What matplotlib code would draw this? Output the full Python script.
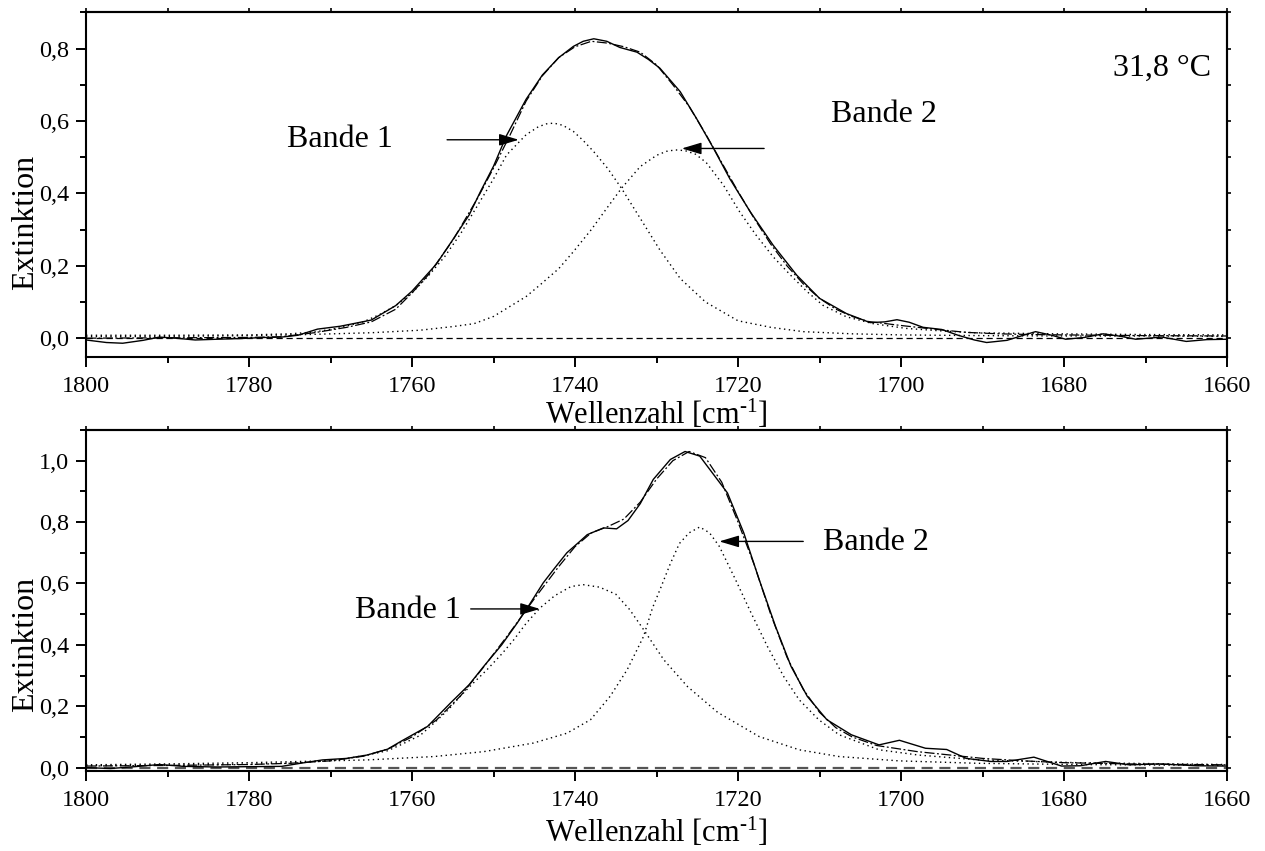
import numpy as np
import matplotlib
matplotlib.use("Agg")
import matplotlib.pyplot as plt
from matplotlib.ticker import MultipleLocator, FuncFormatter, NullFormatter

plt.rcParams['font.family'] = ['Liberation Serif', 'DejaVu Serif']
plt.rcParams['mathtext.fontset'] = 'custom'
plt.rcParams['mathtext.rm'] = 'Liberation Serif'
plt.rcParams['mathtext.default'] = 'regular'

#--------------------------------------------------------------------------
# Data (wavenumber in cm-1, extinction)
#--------------------------------------------------------------------------

# upper panel, 31,8 °C
top_temp = "31,8 °C"

top_meas_w = [1800, 1797.5, 1795.5, 1793, 1791, 1789, 1786.6, 1784, 1781, 1778, 1776, 1774,
              1771.6, 1768.8, 1767, 1765, 1763.5, 1762, 1760, 1758.6, 1757, 1755, 1753,
              1751.6, 1750, 1748.4, 1746, 1744, 1742, 1740.2, 1739, 1737.7, 1736.1, 1734.5,
              1732.4, 1731, 1729.6, 1727.1, 1725.1, 1723, 1721, 1718.5, 1715.7, 1712.8, 1710,
              1706.7, 1703.8, 1702, 1700.5, 1699, 1697.3, 1695, 1693, 1691, 1689.5, 1687, 1685,
              1683.5, 1681.5, 1679.8, 1677.5, 1675.2, 1673, 1671.2, 1668, 1665, 1662.5, 1660]
top_meas_e = [-0.005, -0.012, -0.014, -0.006, 0.003, 0.0, -0.005, -0.003, -0.001, 0.002, 0.003, 0.008,
              0.025, 0.033, 0.041, 0.05, 0.07, 0.09, 0.13, 0.165, 0.205, 0.272, 0.34,
              0.405, 0.475, 0.56, 0.66, 0.727, 0.775, 0.806, 0.82, 0.827, 0.82, 0.803,
              0.79, 0.77, 0.746, 0.681, 0.607, 0.524, 0.44, 0.349, 0.257, 0.174, 0.11,
              0.068, 0.043, 0.045, 0.051, 0.044, 0.03, 0.024, 0.008, -0.005, -0.012, -0.006, 0.008,
              0.018, 0.008, -0.003, 0.002, 0.012, 0.005, -0.003, 0.003, -0.009, -0.004, -0.003]

top_fit_w = [1800, 1790, 1780, 1776, 1772, 1768, 1765, 1762, 1760, 1758, 1755, 1752, 1750,
             1748, 1746, 1744, 1742, 1740, 1738, 1736, 1734, 1732, 1730, 1728, 1726, 1724,
             1722, 1720, 1718, 1716, 1714, 1712, 1710, 1708, 1706, 1704, 1700, 1696, 1692,
             1688, 1684, 1680, 1670, 1660]
top_fit_e = [0.0, 0.001, 0.002, 0.004, 0.015, 0.03, 0.045, 0.08, 0.125, 0.175, 0.27, 0.385, 0.47,
             0.56, 0.655, 0.725, 0.775, 0.805, 0.82, 0.815, 0.805, 0.79, 0.755, 0.7, 0.64, 0.565,
             0.485, 0.405, 0.33, 0.26, 0.2, 0.15, 0.11, 0.08, 0.06, 0.046, 0.035, 0.025, 0.016,
             0.012, 0.01, 0.009, 0.007, 0.006]

top_b1_w = [1800, 1790, 1780, 1775, 1772, 1769, 1766, 1764, 1762, 1760, 1758, 1756, 1754, 1752,
            1750, 1748.4, 1746, 1744.5, 1743.5, 1742.6, 1741.5, 1740.2, 1739, 1737.7, 1736, 1734.3,
            1732, 1729.6, 1727.1, 1724, 1720, 1716, 1712, 1706, 1700, 1690, 1680, 1670, 1660]
top_b1_e = [0.008, 0.008, 0.009, 0.012, 0.017, 0.028, 0.045, 0.065, 0.09, 0.125, 0.172, 0.225, 0.29, 0.365,
            0.44, 0.506, 0.562, 0.584, 0.592, 0.594, 0.588, 0.571, 0.546, 0.515, 0.469, 0.414,
            0.331, 0.244, 0.165, 0.1, 0.048, 0.03, 0.018, 0.012, 0.009, 0.007, 0.006, 0.006, 0.005]

top_b2_w = [1800, 1790, 1780, 1773, 1765, 1759, 1755, 1752.4, 1750, 1748.4, 1746, 1744.3, 1742,
            1740.2, 1738, 1736.1, 1734.3, 1732, 1730, 1728.8, 1727.7, 1726.5, 1725.2, 1723.9,
            1721.8, 1719.8, 1717.8, 1715.7, 1713.6, 1711.6, 1709.6, 1706.7, 1703.4, 1699.4, 1695,
            1691, 1681, 1670, 1660]
top_b2_e = [0.004, 0.005, 0.007, 0.01, 0.015, 0.022, 0.032, 0.04, 0.06, 0.082, 0.115, 0.147, 0.192,
            0.239, 0.3, 0.359, 0.414, 0.474, 0.505, 0.516, 0.52, 0.518, 0.508, 0.485,
            0.423, 0.349, 0.285, 0.225, 0.175, 0.13, 0.091, 0.059, 0.04, 0.027, 0.02,
            0.015, 0.012, 0.01, 0.009]

# lower panel
bot_meas_w = [1800, 1797, 1794, 1791, 1788, 1784, 1780, 1776, 1773.7, 1771, 1768, 1765.5, 1763,
              1761.4, 1758.1, 1755.3, 1753, 1751.2, 1749, 1747.1, 1745.5, 1743.9, 1742.5, 1741,
              1739.5, 1738.5, 1736.5, 1734.9, 1733.5, 1732, 1730.4, 1728.3, 1726.5, 1724.7, 1723,
              1721.3, 1719.3, 1717.4, 1715.4, 1713.5, 1711.5, 1709.1, 1706.1, 1702.7, 1700.2,
              1697, 1694.4, 1692, 1689, 1687, 1683.7, 1680.3, 1678, 1674.9, 1672, 1668.4, 1663.7, 1660]
bot_meas_e = [0.0, -0.003, 0.003, 0.01, 0.004, 0.002, 0.003, 0.004, 0.014, 0.025, 0.03, 0.041, 0.06,
              0.085, 0.134, 0.21, 0.27, 0.33, 0.4, 0.471, 0.535, 0.602, 0.65, 0.7,
              0.735, 0.759, 0.781, 0.778, 0.805, 0.86, 0.939, 1.004, 1.03, 1.015, 0.955,
              0.895, 0.765, 0.612, 0.46, 0.33, 0.232, 0.156, 0.107, 0.074, 0.089,
              0.063, 0.059, 0.03, 0.02, 0.02, 0.034, 0.005, 0.006, 0.02, 0.009, 0.012, 0.006, 0.005]

bot_fit_w = [1800, 1790, 1780, 1775, 1770, 1766, 1763, 1760, 1757, 1754, 1751, 1748, 1745, 1742,
             1740, 1738, 1736, 1734, 1732, 1730, 1728, 1726, 1724, 1722, 1720, 1718, 1716, 1714,
             1712, 1710, 1708, 1706, 1703, 1700, 1698, 1694, 1690, 1685, 1680, 1672, 1660]
bot_fit_e = [0.005, 0.007, 0.01, 0.014, 0.022, 0.037, 0.06, 0.1, 0.155, 0.235, 0.335, 0.44, 0.55, 0.655,
             0.72, 0.765, 0.785, 0.81, 0.865, 0.94, 1.0, 1.03, 1.01, 0.93, 0.8, 0.66, 0.5, 0.36,
             0.255, 0.18, 0.13, 0.1, 0.072, 0.06, 0.052, 0.041, 0.03, 0.022, 0.016, 0.012, 0.009]

bot_b1_w = [1800, 1790, 1780, 1773.7, 1769, 1765.5, 1763, 1761.4, 1759, 1757.3, 1755.5, 1754.1,
            1752.5, 1750.8, 1749, 1747.5, 1746, 1744.3, 1742.5, 1740.5, 1739, 1737, 1735, 1733.3,
            1731.6, 1729.1, 1726.2, 1722.5, 1717.4, 1712.5, 1707.6, 1700.3, 1690.6, 1678.4, 1660]
bot_b1_e = [0.006, 0.008, 0.011, 0.016, 0.025, 0.041, 0.055, 0.074, 0.105, 0.145, 0.19, 0.232,
            0.275, 0.319, 0.37, 0.417, 0.47, 0.52, 0.56, 0.59, 0.596, 0.588, 0.565, 0.515,
            0.45, 0.351, 0.264, 0.18, 0.101, 0.058, 0.036, 0.022, 0.014, 0.01, 0.007]

bot_b2_w = [1800, 1790, 1780, 1773.7, 1765.5, 1757.3, 1751.2, 1745.1, 1741, 1738.1, 1735.7, 1733.6,
            1731.6, 1730.5, 1729.5, 1728.3, 1727.2, 1726, 1724.7, 1723.5, 1722.3, 1720.3, 1718.4,
            1716.4, 1714.4, 1712.5, 1710.1, 1707.6, 1702.7, 1697.9, 1690.5, 1678.4, 1660]
bot_b2_e = [0.009, 0.012, 0.016, 0.02, 0.025, 0.036, 0.052, 0.08, 0.112, 0.156, 0.232, 0.319,
            0.427, 0.52, 0.585, 0.665, 0.73, 0.765, 0.784, 0.765, 0.721, 0.612, 0.504,
            0.395, 0.297, 0.221, 0.156, 0.107, 0.058, 0.041, 0.025, 0.016, 0.01]

band_labels = ["Bande 1", "Bande 2"]


def comma(v, pos):
    return ("%.1f" % v).replace(".", ",")


def style_axes(ax, ylims, ymajor):
    ax.set_xlim(1800, 1660)
    ax.set_ylim(ylims)
    ax.xaxis.set_major_locator(MultipleLocator(20))
    ax.xaxis.set_minor_locator(MultipleLocator(10))
    ax.yaxis.set_major_locator(MultipleLocator(ymajor))
    ax.yaxis.set_minor_locator(MultipleLocator(ymajor / 2))
    ax.yaxis.set_major_formatter(FuncFormatter(comma))
    for s in ax.spines.values():
        s.set_linewidth(1.5)
    ax.tick_params(which='both', direction='out', width=1.4, labelsize=17.5,
                   top=False, right=False)
    ax.tick_params(which='major', length=7, pad=5)
    ax.tick_params(which='minor', length=4)
    ax.tick_params(axis='x', which='major', pad=7)
    # small mirror ticks on top and right
    sx = ax.secondary_xaxis('top')
    sx.xaxis.set_major_locator(MultipleLocator(10))
    sx.xaxis.set_major_formatter(NullFormatter())
    sx.tick_params(direction='out', length=3, width=1.2)
    sx.spines['top'].set_linewidth(1.5)
    sy = ax.secondary_yaxis('right')
    sy.yaxis.set_major_locator(MultipleLocator(ymajor / 2))
    sy.yaxis.set_major_formatter(NullFormatter())
    sy.tick_params(direction='out', length=3, width=1.2)
    sy.spines['right'].set_linewidth(1.5)
    ax.set_xlabel(r"Wellenzahl [cm$^{\text{-1}}$]", fontsize=22)
    ax.set_ylabel("Extinktion", fontsize=23)


def draw_panel(ax, mw, me, fw, fe, b1w, b1e, b2w, b2e, base_style):
    ax.axhline(0, **base_style)
    ax.plot(b1w, b1e, color='k', lw=1.0, linestyle=(0, (1, 2.5)))
    ax.plot(b2w, b2e, color='k', lw=1.0, linestyle=(0, (1, 2.5)))
    ax.plot(fw, fe, color='k', lw=0.9, linestyle=(0, (8, 2, 1.5, 2)))
    ax.plot(mw, me, color='k', lw=1.0)


fig = plt.figure(figsize=(12.65, 8.51), dpi=100)
ax1 = fig.add_axes([0.068, 0.5805, 0.902, 0.405])
ax2 = fig.add_axes([0.068, 0.0944, 0.902, 0.4003])

#--------------------------------------------------------------------------
# Upper panel
#--------------------------------------------------------------------------
draw_panel(ax1, top_meas_w, top_meas_e, top_fit_w, top_fit_e,
           top_b1_w, top_b1_e, top_b2_w, top_b2_e,
           dict(color='k', lw=0.9, linestyle=(0, (5, 3))))
style_axes(ax1, (-0.052, 0.9), 0.2)

arrow = dict(arrowstyle='-|>,head_length=0.6,head_width=0.18', color='k', lw=1.0,
             shrinkA=0, shrinkB=0, mutation_scale=20)
ax1.text(1768.8, 0.548, band_labels[0], fontsize=23, ha='center', va='center')
ax1.annotate('', xy=(1746.9, 0.548), xytext=(1755.7, 0.548), arrowprops=arrow)
ax1.text(1702.1, 0.617, band_labels[1], fontsize=23, ha='center', va='center')
ax1.annotate('', xy=(1726.9, 0.524), xytext=(1716.8, 0.524), arrowprops=arrow)
ax1.text(0.986, 0.839, top_temp, fontsize=23, ha='right', va='center', transform=ax1.transAxes)

ax1.xaxis.set_label_coords(0.5, -0.168)
ax1.yaxis.set_label_coords(-0.053, 0.39)
ax1.xaxis.label.set_va('center')
ax1.yaxis.label.set_va('center')

#--------------------------------------------------------------------------
# Lower panel
#--------------------------------------------------------------------------
draw_panel(ax2, bot_meas_w, bot_meas_e, bot_fit_w, bot_fit_e,
           bot_b1_w, bot_b1_e, bot_b2_w, bot_b2_e,
           dict(color='#555555', lw=1.6, linestyle=(0, (5, 3))))
style_axes(ax2, (-0.01, 1.1), 0.2)

ax2.text(1760.5, 0.512, band_labels[0], fontsize=23, ha='center', va='center')
ax2.annotate('', xy=(1744.3, 0.517), xytext=(1752.8, 0.517), arrowprops=arrow)
ax2.text(1703.1, 0.732, band_labels[1], fontsize=23, ha='center', va='center')
ax2.annotate('', xy=(1722.3, 0.737), xytext=(1712.0, 0.737), arrowprops=arrow)

ax2.xaxis.set_label_coords(0.5, -0.18)
ax2.yaxis.set_label_coords(-0.053, 0.37)
ax2.xaxis.label.set_va('center')
ax2.yaxis.label.set_va('center')

plt.savefig("out.png", dpi=100)
